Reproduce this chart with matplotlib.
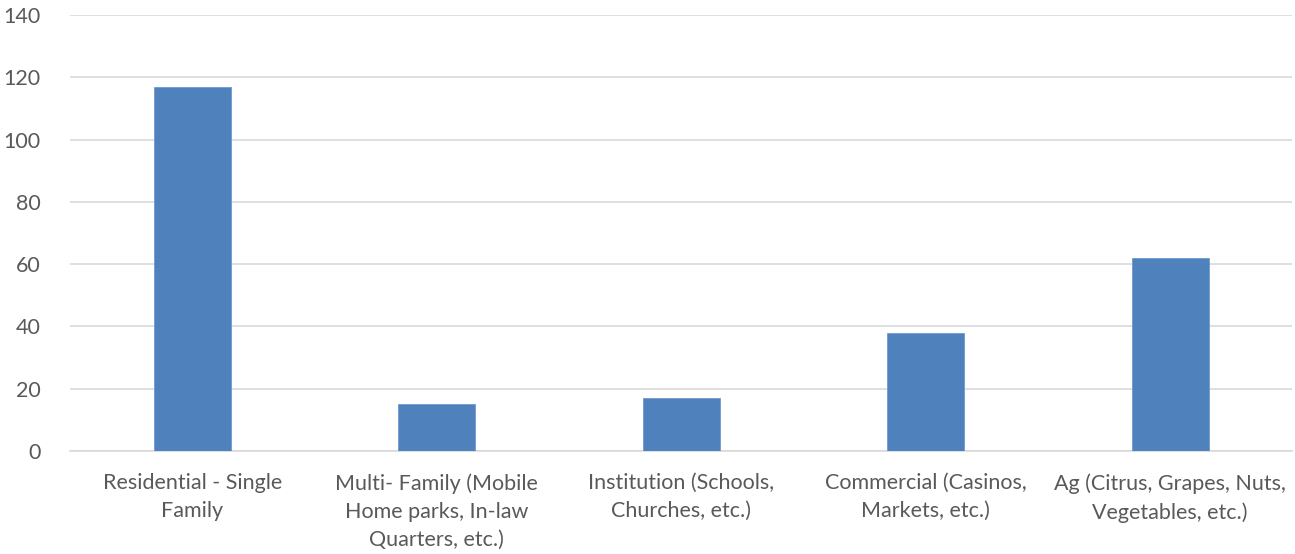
import matplotlib
matplotlib.use('Agg')
import matplotlib.pyplot as plt

# categories and values
categories = ['Residential - Single\nFamily',
              'Multi- Family (Mobile\nHome parks, In-law\nQuarters, etc.)',
              'Institution (Schools,\nChurches, etc.)',
              'Commercial (Casinos,\nMarkets, etc.)',
              'Ag (Citrus, Grapes, Nuts,\nVegetables, etc.)']
values = [117, 15, 17, 38, 62]
yticks = [0, 20, 40, 60, 80, 100, 120, 140]

plt.rcParams['font.family'] = ['Lato', 'DejaVu Sans']

fig = plt.figure(figsize=(12.95, 5.54), dpi=100)
ax = fig.add_axes([0.054, 0.186, 0.944, 0.787])

x = range(len(categories))
ax.bar(x, values, width=0.315, color='#4f81bd', edgecolor='#6e9bd0', linewidth=0.6, zorder=3)

ax.set_ylim(0, 140)
ax.set_xlim(-0.5, len(categories) - 0.5)
ax.set_yticks(yticks)
ax.set_xticks(list(x))
ax.set_xticklabels(categories, linespacing=1.5)
ax.grid(axis='y', color='#d9d9d9', linewidth=1.2, zorder=0)
for s in ['top', 'right', 'left']:
    ax.spines[s].set_visible(False)
ax.spines['bottom'].set_color('#d9d9d9')
ax.spines['bottom'].set_linewidth(1.2)
ax.tick_params(axis='both', length=0, labelsize=15.5, colors='#595959')
ax.tick_params(axis='x', pad=16)
ax.tick_params(axis='y', pad=21)

fig.savefig('out.png', dpi=100)
